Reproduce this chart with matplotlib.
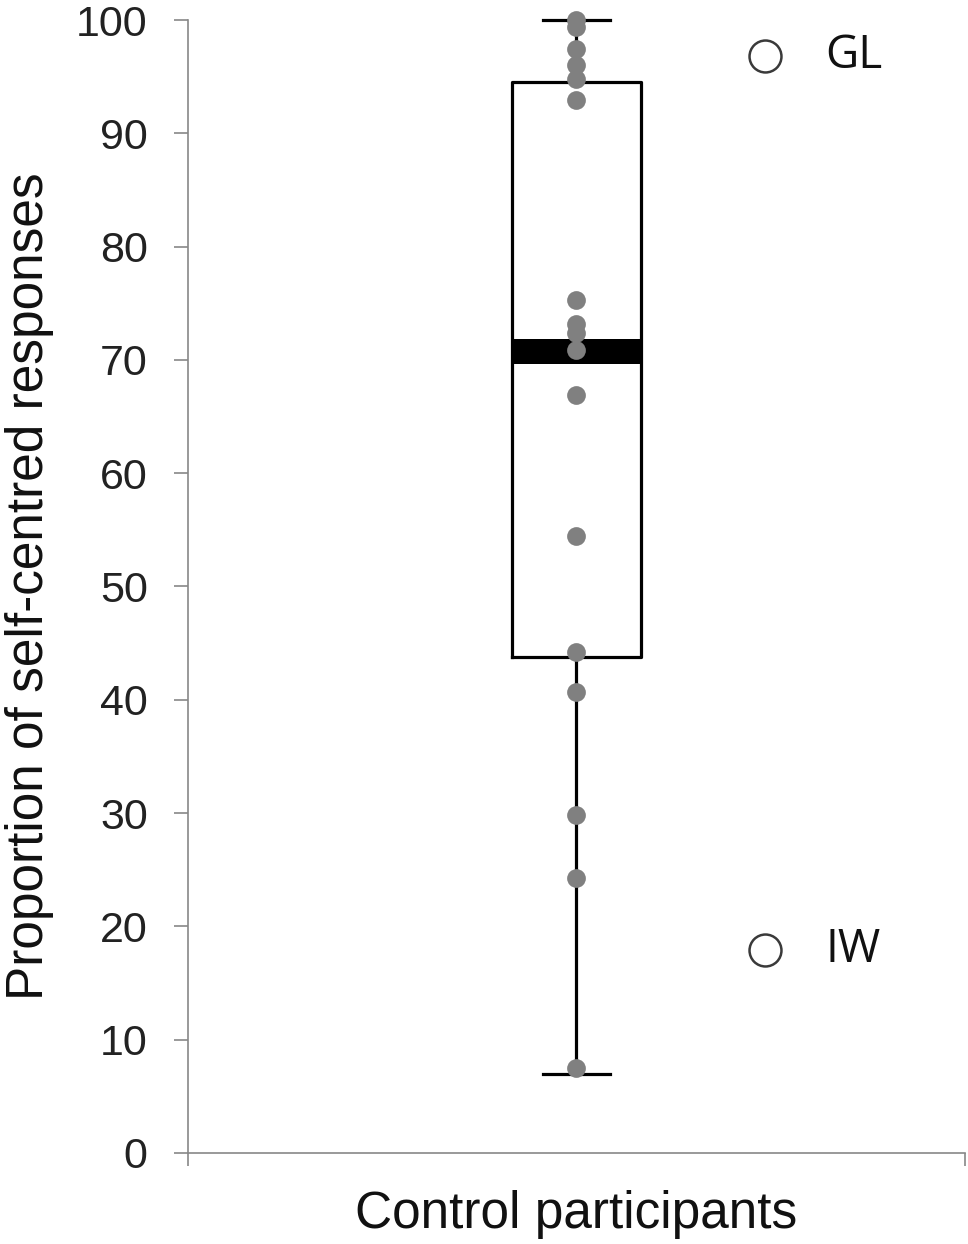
import matplotlib.pyplot as plt

# values
control_points = [100.0, 99.4, 97.4, 96.0, 94.8, 92.9, 75.3, 73.2, 72.4, 70.9,
                  66.9, 54.5, 44.2, 40.7, 29.8, 24.3, 7.5]
box_stats = {'med': 70.8, 'q1': 43.8, 'q3': 94.5, 'whislo': 7.0, 'whishi': 100.0}
patients = ['GL', 'IW']
patient_scores = [96.8, 17.9]
category = 'Control participants'
y_ticks = [0, 10, 20, 30, 40, 50, 60, 70, 80, 90, 100]

plt.rcParams['font.family'] = ['Liberation Sans', 'DejaVu Sans']

fig = plt.figure(figsize=(9.68, 12.44), dpi=100)
ax = fig.add_axes([0.1942, 0.0732, 0.8027, 0.9107])

stats = dict(box_stats, fliers=[], label='')
ax.bxp([stats], positions=[1], widths=0.167, showfliers=False,
       boxprops=dict(color='black', linewidth=2.3),
       whiskerprops=dict(color='black', linewidth=2.3),
       capprops=dict(color='black', linewidth=2.3),
       medianprops=dict(color='black', linewidth=18, solid_capstyle='butt'),
       capwidths=0.085)
for art in ax.get_children():
    try:
        art.set_clip_on(False)
    except Exception:
        pass

ax.plot([1] * len(control_points), control_points, 'o', color='#808080',
        markersize=13.5, markeredgewidth=0, clip_on=False, zorder=5)

ax.plot([1.243] * len(patient_scores), patient_scores, 'o', markerfacecolor='white',
        markeredgecolor='#3a3a3a', markeredgewidth=1.8, markersize=23, clip_on=False, zorder=5)
for name, val in zip(patients, patient_scores):
    ax.text(1.32, val, name, fontsize=33, family=['Open Sans', 'DejaVu Sans'],
            va='center', ha='left', color='#111111')

ax.set_xlim(0.5, 1.5)
ax.set_ylim(0, 100)
ax.set_yticks(y_ticks)
ax.set_xticks([0.5, 1.5])
ax.set_xticklabels(['', ''])
ax.tick_params(axis='y', length=10, width=1.2, color='#888888', pad=19,
               labelsize=31, labelcolor='#222222')
ax.tick_params(axis='x', length=9, width=1.2, color='#888888')

for side in ['top', 'right']:
    ax.spines[side].set_visible(False)
for side in ['left', 'bottom']:
    ax.spines[side].set_color('#888888')
    ax.spines[side].set_linewidth(1.2)

ax.set_ylabel('Proportion of self-centred responses', fontsize=37, color='#111111', labelpad=16)
ax.set_xlabel(category, fontsize=37, color='#111111', labelpad=14)

plt.savefig('out.png', dpi=100)
